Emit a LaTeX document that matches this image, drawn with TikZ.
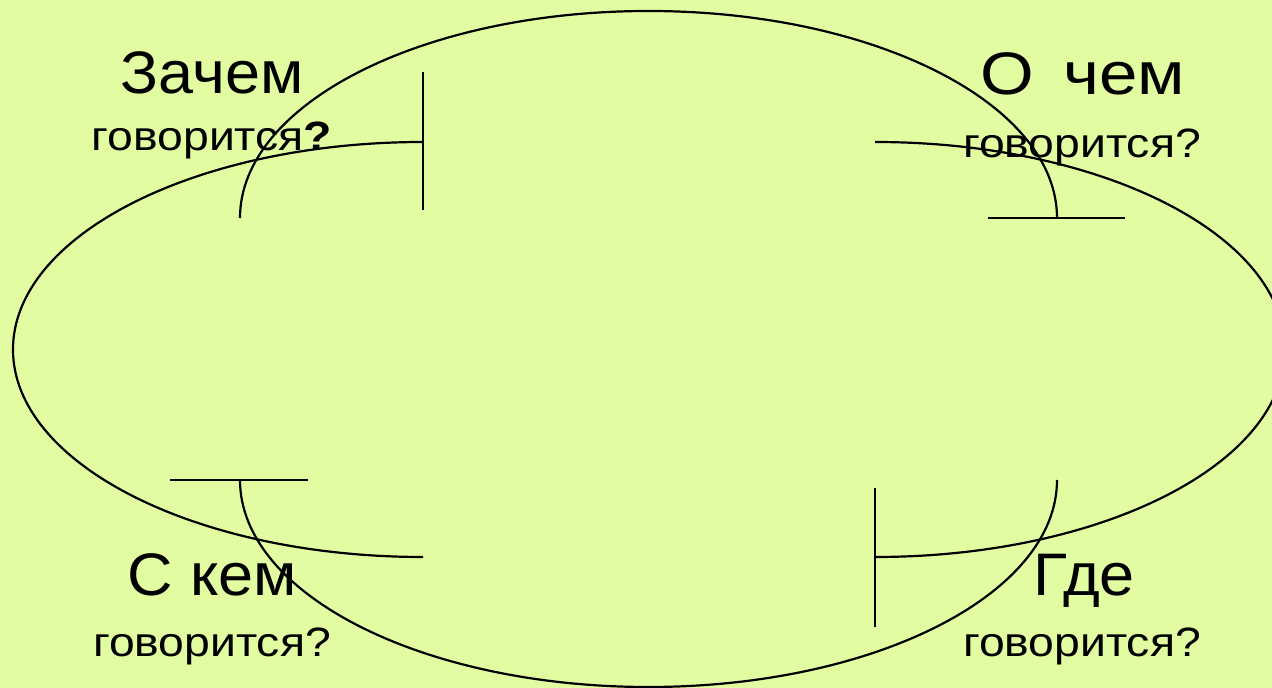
\documentclass[tikz,border=0pt]{standalone}
\usepackage{fontspec}
\setmainfont{Liberation Sans}
\newfontfamily\bigfont[FakeStretch=1.05]{Liberation Sans}
\newfontfamily\widebig[FakeStretch=1.15]{Liberation Sans}
\newfontfamily\qfont[FakeStretch=1.13]{Liberation Sans}
\definecolor{bgc}{RGB}{226,252,162}
\begin{document}
\begin{tikzpicture}[x=1pt,y=1pt,
  curve/.style={line width=2.2pt,black},
  bigtxt/.style={anchor=base,inner sep=0pt,font=\bigfont\fontsize{60}{70}\selectfont},
  smalltxt/.style={anchor=base,inner sep=0pt,font=\qfont\fontsize{41}{48}\selectfont}]
\useasboundingbox (0,0) rectangle (1272,688);
\fill[bgc] (0,0) rectangle (1272,688);
\clip (0,0) rectangle (1272,688);
% arc end points
\coordinate (ta) at (240,470);
\coordinate (tb) at (1057,470);
\coordinate (ba) at (1057,208);
\coordinate (bb) at (240,208);
\coordinate (la) at (423,546);
\coordinate (lb) at (423,131);
\coordinate (ra) at (875,546);
\coordinate (rb) at (875,131);
% tee bars
\coordinate (tb1) at (988,470);  \coordinate (tb2) at (1125,470);
\coordinate (bb1) at (170,208);  \coordinate (bb2) at (308,208);
\coordinate (la1) at (423,616);  \coordinate (la2) at (423,478);
\coordinate (rb1) at (875,200);  \coordinate (rb2) at (875,61);
% tall arcs
\draw[curve] (ta) arc[start angle=180,end angle=0,x radius=408.5pt,y radius=207pt];
\draw[curve] (ba) arc[start angle=0,end angle=-180,x radius=408.5pt,y radius=207pt];
% wide arcs
\draw[curve] (la) arc[start angle=90,end angle=270,x radius=410pt,y radius=207.5pt];
\draw[curve] (ra) arc[start angle=90,end angle=-90,x radius=410pt,y radius=207.5pt];
% tees
\draw[curve] (tb1) -- (tb2);
\draw[curve] (bb1) -- (bb2);
\draw[curve] (la1) -- (la2);
\draw[curve] (rb1) -- (rb2);
% texts
\node[bigtxt] (t1) at (212,594.7) {Зачем};
\node[smalltxt] (t2) at (212,537.3) {говорится\textbf{?}};
\node[bigtxt,font=\widebig\fontsize{60}{70}\selectfont] (t3) at (1083,593) {О\hspace{10pt} чем};
\node[smalltxt] (t4) at (1082,530) {говорится?};
\node[bigtxt] (t5) at (212,92) {С кем};
\node[smalltxt] (t6) at (212,31) {говорится?};
\node[bigtxt] (t7) at (1084,92) {Где};
\node[smalltxt] (t8) at (1082,31) {говорится?};
\end{tikzpicture}
\end{document}
